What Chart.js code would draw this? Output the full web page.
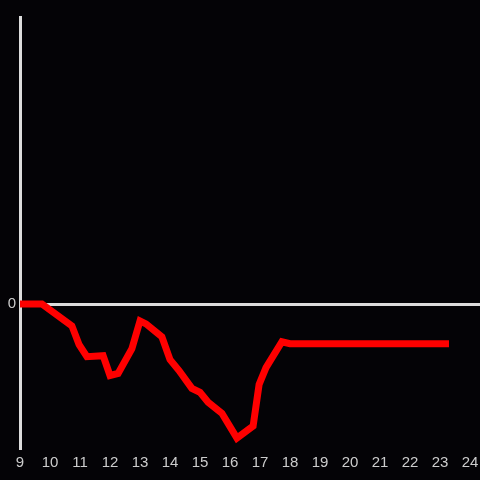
<!DOCTYPE html>
<html>
<head>
<meta charset="utf-8">
<script src="https://cdn.jsdelivr.net/npm/chart.js@4"></script>
<style>
  html, body { margin: 0; padding: 0; background: #040306; }
  #wrap { width: 480px; height: 480px; }
</style>
</head>
<body>
<div id="wrap"><canvas id="chart" width="480" height="480"></canvas></div>
<script>
// hour of day vs. value (only the zero tick is labelled)
const hours = [9, 9.73, 10.73, 10.97, 11.23, 11.77, 12.0, 12.27, 12.73, 13.0, 13.2, 13.73, 14.0, 14.3, 14.73, 15.0, 15.27, 15.73, 16.23, 16.77, 16.97, 17.2, 17.73, 18.0, 23.3];
const values = [0, 0, -22, -41, -53, -52, -72, -70, -45, -17, -20, -33, -56, -67, -85, -89, -99, -110, -135, -123, -81, -64, -38, -40, -40];
const yTicks = [0];

const axisColor = '#dcdcdc';
const labelColor = '#cccccc';

const ctx = document.getElementById('chart').getContext('2d');
new Chart(ctx, {
    type: 'line',
    data: {
        datasets: [{
            data: hours.map((h, i) => ({ x: h, y: values[i] })),
            borderColor: '#ff0000',
            borderWidth: 7,
            pointRadius: 0,
            fill: false,
            tension: 0,
        }],
    },
    options: {
        responsive: false,
        animation: false,
        layout: { padding: { top: 17, right: 0, left: 0, bottom: 0 } },
        plugins: { legend: { display: false }, tooltip: { enabled: false } },
        scales: {
            x: {
                type: 'linear',
                min: 9,
                max: 24.333,
                afterBuildTicks: (axis) => {
                    axis.ticks = [];
                    for (let h = 9; h <= 24; h++) axis.ticks.push({ value: h });
                },
                grid: { display: false, drawTicks: false },
                border: { display: false },
                ticks: {
                    color: labelColor,
                    padding: 6,
                    maxRotation: 0,
                    autoSkip: false,
                    font: { family: 'Liberation Sans', size: 15 },
                },
                afterFit: (axis) => {
                    axis.height = 32;
                    axis.paddingLeft = 0;
                    axis.paddingRight = 0;
                },
            },
            y: {
                min: -145,
                max: 289,
                afterBuildTicks: (axis) => {
                    axis.ticks = yTicks.map((v) => ({ value: v }));
                },
                grid: { color: axisColor, lineWidth: 3, drawTicks: false },
                border: { display: true, color: axisColor, width: 3 },
                ticks: {
                    color: labelColor,
                    padding: 4,
                    font: { family: 'Liberation Sans', size: 15 },
                },
                afterFit: (axis) => {
                    axis.width = 20;
                    axis.paddingTop = 0;
                    axis.paddingBottom = 0;
                },
            },
        },
    },
});
</script>
</body>
</html>
